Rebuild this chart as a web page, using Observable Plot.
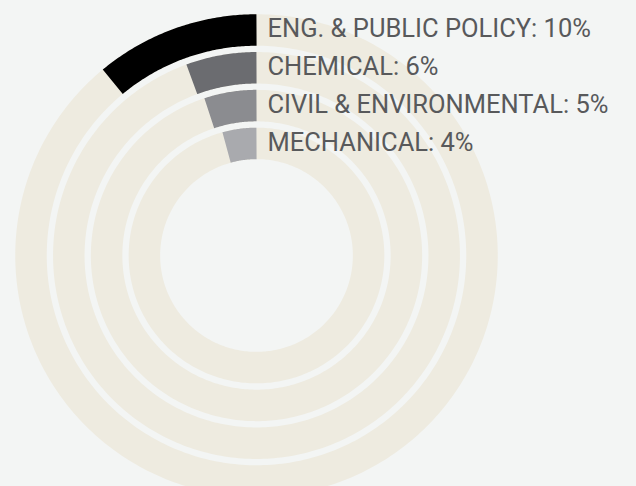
<!DOCTYPE html>
<html>
<head>
<meta charset="utf-8">
<script src="https://cdn.jsdelivr.net/npm/d3@7"></script>
<script src="https://cdn.jsdelivr.net/npm/@observablehq/plot@0.6"></script>
<style>
  html, body { margin: 0; padding: 0; background: #f3f5f4; }
  #chart { width: 636px; height: 486px; overflow: hidden; }
</style>
</head>
<body>
<div id="chart"></div>
<script>
// Categories (outer ring first), arc extent (% of a full turn), printed labels
const categories = ["ENG. & PUBLIC POLICY", "CHEMICAL", "CIVIL & ENVIRONMENTAL", "MECHANICAL"];
const shares = [11.0, 5.6, 5.1, 4.3];
const pctLabels = ["10%", "6%", "5%", "4%"];
const barColors = ["#000000", "#6b6c70", "#8b8c90", "#a9aaae"];

// layout (pixel-equivalent data units, 1 unit = 1 px)
const rOuterCenter = 225.5, ringStep = 37.8, band = 31.5;
const radius = i => rOuterCenter - i * ringStep;

const track = [];
categories.forEach((c, i) => {
  for (let a = 0; a <= 360; a += 1) {
    const t = a * Math.PI / 180;
    track.push({ring: c, x: -radius(i) * Math.sin(t), y: radius(i) * Math.cos(t)});
  }
});

const bars = [];
categories.forEach((c, i) => {
  const end = shares[i] * 3.6;
  const n = Math.ceil(end / 0.5);
  for (let k = 0; k <= n; k++) {
    const a = Math.min(end, k * 0.5);
    const t = a * Math.PI / 180;
    bars.push({category: c, x: -radius(i) * Math.sin(t), y: radius(i) * Math.cos(t)});
  }
});

const chart = Plot.plot({
  width: 636,
  height: 486,
  margin: 0,
  x: {domain: [-256, 380], axis: null},
  y: {domain: [-231, 255], axis: null},
  color: {domain: categories, range: barColors},
  style: {background: "transparent", fontFamily: "Roboto, 'DejaVu Sans', sans-serif"},
  marks: [
    Plot.line(track, {x: "x", y: "y", z: "ring", stroke: "#eeebe0", strokeWidth: band, strokeLinecap: "butt"}),
    Plot.line(bars, {x: "x", y: "y", z: "category", stroke: "category", strokeWidth: band, strokeLinecap: "butt"}),
    Plot.text(categories, {
      x: () => 0,
      y: (d, i) => radius(i),
      text: (d, i) => `${d}: ${pctLabels[i]}`,
      textAnchor: "start",
      dx: 11,
      dy: -1,
      fontSize: 25.5,
      fontWeight: 400,
      fill: "#58595b"
    })
  ]
});
document.getElementById("chart").appendChild(chart);
</script>
</body>
</html>
